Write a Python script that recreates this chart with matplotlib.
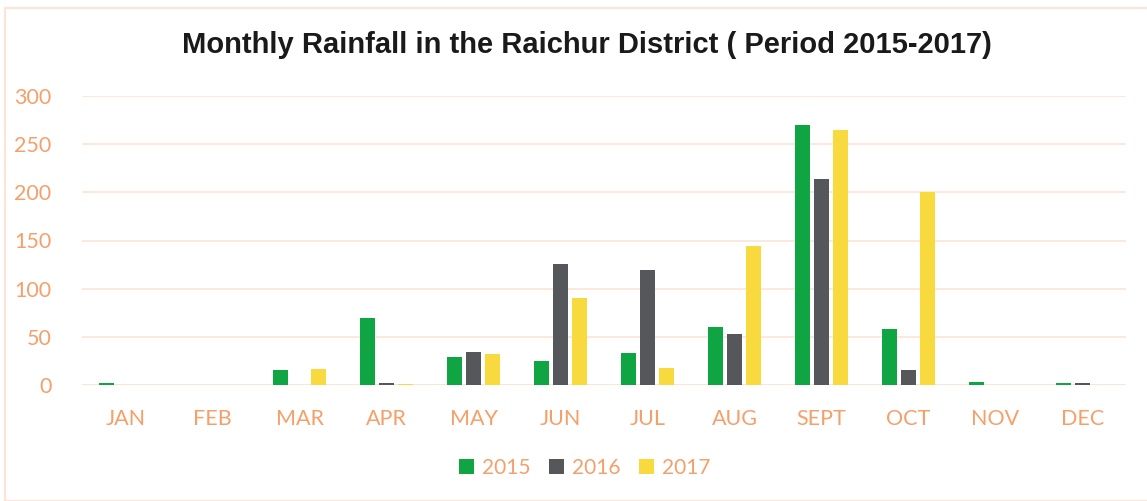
import matplotlib
matplotlib.use('Agg')
import matplotlib.pyplot as plt
from matplotlib.patches import Rectangle
import numpy as np

months = ['JAN', 'FEB', 'MAR', 'APR', 'MAY', 'JUN', 'JUL', 'AUG', 'SEPT', 'OCT', 'NOV', 'DEC']
rain_2015 = [2, 0, 16, 70, 29, 25, 33, 60, 270, 58, 3, 2]
rain_2016 = [0.5, 0, 0, 2, 34, 126, 119, 53, 214, 16, 0, 2]
rain_2017 = [0, 0, 17, 1.5, 32, 90, 18, 144, 265, 200, 0, 0]

orange = '#F4A06A'
grid_c = '#FCE4D6'

plt.rcParams['font.family'] = ['Lato', 'DejaVu Sans']

fig = plt.figure(figsize=(11.47, 5.01), dpi=100)
ax = fig.add_axes([82 / 1147, 1 - 385 / 501, (1126 - 82) / 1147, (385 - 96) / 501])

x = np.arange(len(months))
w = 0.17
off = 0.22
ax.bar(x - off, rain_2015, w, color='#10A543', label='2015', zorder=3)
ax.bar(x, rain_2016, w, color='#56575B', label='2016', zorder=3)
ax.bar(x + off, rain_2017, w, color='#F9DA3E', label='2017', zorder=3)

ax.set_xlim(-0.5, 11.5)
ax.set_ylim(0, 300)
ax.set_yticks(range(0, 301, 50))
ax.set_xticks(x)
ax.set_xticklabels(months)
ax.grid(axis='y', color=grid_c, linewidth=1.2, zorder=0)
for s in ax.spines.values():
    s.set_visible(False)
ax.axhline(0, color=grid_c, linewidth=2, zorder=2)
ax.tick_params(length=0, labelcolor=orange, labelsize=15.5)
ax.tick_params(axis='x', pad=17)
ax.tick_params(axis='y', pad=22)

fig.text(587 / 1147, 1 - 45 / 501, 'Monthly Rainfall in the Raichur District ( Period 2015-2017)',
         ha='center', va='center', fontsize=21, fontweight='bold', color='#1a1a1a',
         family=['Liberation Sans', 'DejaVu Sans'])

leg = fig.legend(loc='center', bbox_to_anchor=(585 / 1147, 1 - 468 / 501), ncol=3, frameon=False,
                 fontsize=15, handlelength=0.7, handleheight=0.7, columnspacing=0.9, handletextpad=0.4)
for t in leg.get_texts():
    t.set_color(orange)

fig.patches.append(Rectangle((5 / 1147, 0), 1, 1 - 8 / 501, transform=fig.transFigure,
                             fill=False, edgecolor=grid_c, linewidth=1.5))

fig.savefig('out.png', dpi=100)
